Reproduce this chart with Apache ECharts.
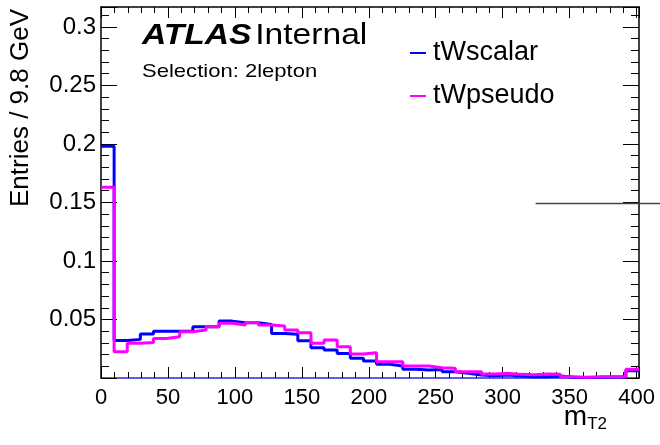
<!DOCTYPE html>
<html>
<head>
<meta charset="utf-8">
<script src="https://cdn.jsdelivr.net/npm/echarts@6/dist/echarts.min.js"></script>
<style>
  html, body { margin: 0; padding: 0; background: #fff; }
  #view { width: 660px; height: 445px; }
</style>
</head>
<body>
<div id="view"></div>
<script>
// bins of 9.8 GeV starting at 0
const binWidth = 9.8;
const nBins = 41;
const tWscalar = [
  0.198, 0.032, 0.033, 0.0375, 0.040, 0.040, 0.040, 0.0438, 0.0438, 0.0486,
  0.0472, 0.0472, 0.0458, 0.038, 0.0373, 0.0318, 0.0259, 0.0239, 0.021, 0.0168,
  0.0145, 0.0117, 0.0102, 0.0074, 0.0068, 0.0072, 0.0054, 0.0040, 0.0025, 0.0020,
  0.0026, 0.0017, 0.0011, 0.0011, 0.0017, 0.0006, 0.0005, 0.0006, 0.0008, 0.0008,
  0.0062
];
const tWpseudo = [
  0.163, 0.0225, 0.0296, 0.0304, 0.0338, 0.0352, 0.0395, 0.041, 0.0438, 0.0467,
  0.0452, 0.0475, 0.0452, 0.0444, 0.041, 0.0387, 0.0296, 0.0324, 0.0267, 0.0205,
  0.0216, 0.0139, 0.0139, 0.0102, 0.0102, 0.0088, 0.0083, 0.0054, 0.0054, 0.0034,
  0.0040, 0.0031, 0.0028, 0.0034, 0.0031, 0.0011, 0.0006, 0.0011, 0.0011, 0.0011,
  0.0074
];
// stray horizontal line seen at the right side (runs off the canvas)
const strayLineX = [324.6, 420];
const strayLineY = 0.149;

const xTicks = [0, 50, 100, 150, 200, 250, 300, 350, 400];
const yTicks = [0.05, 0.1, 0.15, 0.2, 0.25, 0.3];

const font = "'Liberation Sans', Arial, Helvetica, sans-serif";

function toSteps(vals) {
  let pts = [];
  vals.forEach((v, i) => pts.push([+(i * binWidth).toFixed(2), v]));
  pts.push([+(nBins * binWidth).toFixed(2), vals[vals.length - 1]]);
  return pts;
}

let myChart = echarts.init(document.getElementById("view"));

let tickAxisX = (pos, showLabel, lineColor) => ({
  type: "value",
  position: pos,
  min: 0,
  max: nBins * binWidth,
  interval: 50,
  axisLine: { show: true, onZero: false, lineStyle: { color: lineColor, width: 1.5 } },
  axisTick: { show: true, inside: true, length: 11, lineStyle: { color: "#000", width: 1 } },
  minorTick: { show: true, splitNumber: 5, length: 6, lineStyle: { color: "#000", width: 1 } },
  splitLine: { show: false },
  axisLabel: {
    show: showLabel,
    margin: 9,
    fontSize: 22,
    color: "#000",
    fontFamily: font,
    formatter: (v) => (xTicks.indexOf(Math.round(v * 1000) / 1000) >= 0 ? String(v) : ""),
  },
});

let tickAxisY = (pos, showLabel) => ({
  type: "value",
  position: pos,
  min: 0,
  max: 0.317,
  interval: 0.05,
  axisLine: { show: true, onZero: false, lineStyle: { color: "#000", width: 1.5 } },
  axisTick: { show: true, inside: true, length: 16, lineStyle: { color: "#000", width: 1 } },
  minorTick: { show: true, splitNumber: 5, length: 8, lineStyle: { color: "#000", width: 1 } },
  splitLine: { show: false },
  axisLabel: {
    show: showLabel,
    margin: 5,
    fontSize: 24,
    color: "#000",
    fontFamily: font,
    formatter: (v) => {
      let r = Math.round(v * 1000) / 1000;
      return yTicks.indexOf(r) >= 0 ? String(r) : "";
    },
  },
});

let option = {
  backgroundColor: "#fff",
  animation: false,
  grid: { left: 101, right: 21, top: 7, bottom: 67 },
  xAxis: [tickAxisX("bottom", true, "#2a2ae0"), tickAxisX("top", false, "#000")],
  yAxis: [tickAxisY("left", true), tickAxisY("right", false)],
  legend: {
    data: ["tWscalar", "tWpseudo"],
    orient: "vertical",
    left: 410,
    top: 38,
    padding: 0,
    icon: "rect",
    itemWidth: 16,
    itemHeight: 2,
    itemGap: 13,
    textStyle: { fontSize: 27, color: "#000", fontFamily: font, lineHeight: 30, padding: [0, 0, 0, 2] },
  },
  graphic: [
    {
      type: "text",
      x: 142,
      y: 21,
      scaleX: 1.12,
      style: {
        text: "{b|ATLAS} {n|Internal}",
        rich: {
          b: { fontSize: 30, fontWeight: "bold", fontStyle: "italic", fontFamily: font, fill: "#000" },
          n: { fontSize: 30, fontFamily: font, fill: "#000" },
        },
      },
    },
    {
      type: "text",
      x: 142,
      y: 62,
      scaleX: 1.16,
      style: { text: "Selection: 2lepton", fontSize: 19, fontFamily: font, fill: "#000" },
    },
    {
      type: "text",
      x: 8,
      y: 9,
      rotation: Math.PI / 2,
      style: {
        text: "Entries / 9.8 GeV",
        fontSize: 26,
        fontFamily: font,
        fill: "#000",
        align: "right",
        verticalAlign: "top",
      },
    },
    {
      type: "text",
      right: 53,
      top: 403,
      style: {
        text: "{m|m}{s|T2}",
        rich: {
          m: { fontSize: 28, fontFamily: font, fill: "#000" },
          s: { fontSize: 17, fontFamily: font, fill: "#000", padding: [14, 0, 0, 0] },
        },
      },
    },
  ],
  series: [
    {
      name: "tWscalar",
      type: "line",
      step: "end",
      symbol: "none",
      color: "#0000ff",
      lineStyle: { width: 3, color: "#0000ff" },
      data: toSteps(tWscalar),
      z: 3,
    },
    {
      name: "tWpseudo",
      type: "line",
      step: "end",
      symbol: "none",
      color: "#ff00ff",
      lineStyle: { width: 3, color: "#ff00ff" },
      data: toSteps(tWpseudo),
      z: 4,
    },
  ],
};
myChart.setOption(option);

// the stray line runs past the plot frame, so place it through the axis scales
let p0 = myChart.convertToPixel({ xAxisIndex: 0, yAxisIndex: 0 }, [strayLineX[0], strayLineY]);
let p1 = myChart.convertToPixel({ xAxisIndex: 0, yAxisIndex: 0 }, [strayLineX[1], strayLineY]);
myChart.setOption({
  graphic: option.graphic.concat([
    {
      type: "line",
      silent: true,
      z: 10,
      shape: { x1: p0[0], y1: p0[1], x2: p1[0], y2: p1[1] },
      style: { stroke: "#444", lineWidth: 1.5 },
    },
  ]),
});
</script>
</body>
</html>
